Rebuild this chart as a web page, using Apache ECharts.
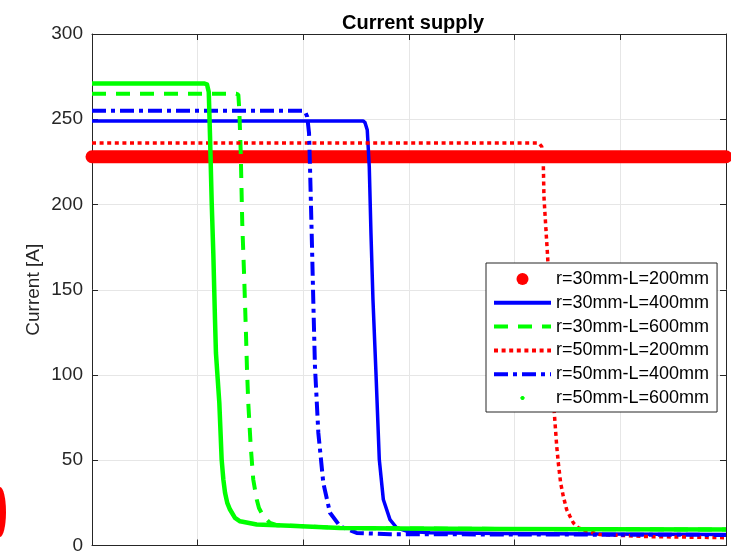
<!DOCTYPE html>
<html>
<head>
<meta charset="UTF-8">
<title>Current supply</title>
<script src="https://cdn.jsdelivr.net/npm/echarts@6/dist/echarts.min.js"></script>
<style>
    html, body { margin: 0; padding: 0; background: #fff; }
    #main { width: 731px; height: 555px; }
</style>
</head>
<body>
<div id="main"></div>
<script>
// x is in grid divisions (6 of them, the x labels are cut off in the picture), y is current in A
var names = ['r=30mm-L=200mm', 'r=30mm-L=400mm', 'r=30mm-L=600mm',
             'r=50mm-L=200mm', 'r=50mm-L=400mm', 'r=50mm-L=600mm'];

var x_r30_L200 = [0, 6];
var y_r30_L200 = [228, 228];

var x_r30_L400 = [0, 2.565, 2.584, 2.605, 2.624, 2.640, 2.659, 2.688, 2.719, 2.757, 2.820, 2.883, 2.978, 3.199, 3.861, 4.807, 6];
var y_r30_L400 = [249, 249, 248, 243.7, 222.2, 183.2, 144.1, 100.2, 50.4, 27, 15.2, 10.4, 8.4, 7.5, 7, 6.8, 6.5];

var x_r30_L600 = [0, 1.363, 1.385, 1.394, 1.407, 1.422, 1.441, 1.457, 1.467, 1.479, 1.502, 1.526, 1.559, 1.580, 1.621, 1.684, 1.748, 1.968, 2.347, 2.915, 3.861, 4.807, 6];
var y_r30_L600 = [265, 265, 264.5, 255.5, 232, 189, 155.9, 124.6, 103, 83.6, 58.2, 38.7, 27, 22, 17.2, 13.3, 11.9, 11.4, 10.3, 10, 9.7, 9.5, 9.4];

var x_r50_L200 = [0, 4.230, 4.240, 4.256, 4.271, 4.277, 4.296, 4.312, 4.375, 4.398, 4.413, 4.435, 4.460, 4.492, 4.523, 4.555, 4.602, 4.682, 4.807, 5.281, 6];
var y_r50_L200 = [236, 236, 235.5, 234, 224.2, 204.7, 185.2, 169.5, 77.8, 58.2, 48.5, 36.7, 28.9, 21.1, 17.2, 13.3, 10.4, 8.4, 6.4, 5.2, 4.6];

var x_r50_L400 = [0, 1.997, 2.016, 2.037, 2.054, 2.063, 2.079, 2.094, 2.110, 2.142, 2.189, 2.252, 2.347, 2.505, 2.820, 3.861, 6];
var y_r50_L400 = [255, 255, 254.5, 251.5, 241.8, 222.2, 183.2, 144.1, 105.1, 66, 36.7, 19.2, 11.3, 7.4, 6.6, 6.5, 6.2];

var x_r50_L600 = [0, 1.060, 1.088, 1.105, 1.117, 1.133, 1.148, 1.164, 1.173, 1.190, 1.205, 1.218, 1.227, 1.243, 1.259, 1.280, 1.306, 1.353, 1.401, 1.559, 1.874, 2.347, 2.915, 3.861, 4.807, 6];
var y_r50_L600 = [271, 271, 270.5, 266, 239.8, 200.8, 171.5, 132.4, 112.9, 97.3, 83.6, 64, 50.4, 38.7, 30.9, 25, 21.1, 16.2, 14.2, 12.3, 11.6, 10.3, 10, 9.7, 9.5, 9.4];

function pairs(xs, ys) {
    return xs.map(function (x, i) { return [x, ys[i]]; });
}

var dark = '#262626';
var font = '"Liberation Sans", Arial, Helvetica, sans-serif';
var red = '#ff0000', blue = '#0000ff', green = '#00ff00';
var noDot = { color: 'rgba(0,0,0,0)', borderColor: 'rgba(0,0,0,0)', borderWidth: 0 };

var chart = echarts.init(document.getElementById('main'), null, { renderer: 'canvas' });

function xAx(pos, grid) {
    return {
        type: 'value', min: 0, max: 6, interval: 1, position: pos,
        axisLine: { show: true, onZero: false, lineStyle: { color: dark, width: 1 } },
        axisTick: { show: true, inside: true, length: 6, lineStyle: { color: dark } },
        axisLabel: { show: false },
        splitLine: { show: grid, lineStyle: { color: '#e6e6e6', width: 1 } }
    };
}

chart.setOption({
    animation: false,
    backgroundColor: '#fff',
    title: {
        text: 'Current supply', left: 337, top: 8,
        textStyle: { fontFamily: font, fontSize: 20, fontWeight: 'bold', color: '#000' }
    },
    grid: { left: 92, right: 5, top: 34, bottom: 9 },
    xAxis: [xAx('bottom', true), xAx('top', false)],
    yAxis: [{
        type: 'value', min: 0, max: 300, interval: 50, position: 'left',
        name: 'Current [A]', nameLocation: 'middle', nameGap: 49, nameMoveOverlap: false,
        nameTextStyle: { fontFamily: font, fontSize: 19, color: dark },
        axisLine: { show: true, onZero: false, lineStyle: { color: dark, width: 1 } },
        axisTick: { show: true, inside: true, length: 6, lineStyle: { color: dark } },
        axisLabel: { fontFamily: font, fontSize: 19, color: dark, margin: 9 },
        splitLine: { show: true, lineStyle: { color: '#e6e6e6', width: 1 } }
    }, {
        type: 'value', min: 0, max: 300, interval: 50, position: 'right',
        axisLine: { show: true, onZero: false, lineStyle: { color: dark, width: 1 } },
        axisTick: { show: true, inside: true, length: 6, lineStyle: { color: dark } },
        axisLabel: { show: false },
        splitLine: { show: false }
    }],
    legend: {
        orient: 'vertical', left: 486, top: 263,
        padding: [7, 8, 5, 6], itemGap: 5.8, itemWidth: 57, itemHeight: 12,
        backgroundColor: '#fff', borderColor: dark, borderWidth: 1, borderRadius: 0,
        textStyle: { fontFamily: font, fontSize: 18, color: '#000', lineHeight: 18 },
        data: [
            { name: names[0], icon: 'circle', itemStyle: { color: red, borderWidth: 0 } },
            { name: names[1], itemStyle: noDot, lineStyle: { color: blue, width: 4, type: 'solid' } },
            { name: names[2], itemStyle: noDot, lineStyle: { color: green, width: 4, type: [14, 10] } },
            { name: names[3], itemStyle: noDot, lineStyle: { color: red, width: 4, type: [4, 3.6] } },
            { name: names[4], itemStyle: noDot, lineStyle: { color: blue, width: 4, type: [14, 5, 4, 5] } },
            { name: names[5], icon: 'path://M0,0M12,12M5.2,4L6.8,4L8,5.2L8,6.8L6.8,8L5.2,8L4,6.8L4,5.2Z',
              itemStyle: { color: green, borderWidth: 0 } }
        ]
    },
    graphic: [{
        type: 'ellipse', silent: true,
        shape: { cx: 0, cy: 512, rx: 6, ry: 25 },
        style: { fill: red }
    }],
    series: [{
        name: names[0], type: 'line', symbol: 'none', clip: false,
        data: pairs(x_r30_L200, y_r30_L200),
        itemStyle: { color: red },
        lineStyle: { color: red, width: 13, cap: 'round' }
    }, {
        name: names[1], type: 'line', symbol: 'none',
        data: pairs(x_r30_L400, y_r30_L400),
        itemStyle: { color: blue },
        lineStyle: { color: blue, width: 3.5, join: 'round' }
    }, {
        name: names[2], type: 'line', symbol: 'none',
        data: pairs(x_r30_L600, y_r30_L600),
        itemStyle: { color: green },
        lineStyle: { color: green, width: 4, type: [14, 10] }
    }, {
        name: names[3], type: 'line', symbol: 'none',
        data: pairs(x_r50_L200, y_r50_L200),
        itemStyle: { color: red },
        lineStyle: { color: red, width: 3.5, type: [4, 3.6] }
    }, {
        name: names[4], type: 'line', symbol: 'none',
        data: pairs(x_r50_L400, y_r50_L400),
        itemStyle: { color: blue },
        lineStyle: { color: blue, width: 4, type: [14, 5, 4, 5] }
    }, {
        name: names[5], type: 'line', symbol: 'none',
        data: pairs(x_r50_L600, y_r50_L600),
        itemStyle: { color: green },
        lineStyle: { color: green, width: 4.5, join: 'round' }
    }]
});
</script>
</body>
</html>
